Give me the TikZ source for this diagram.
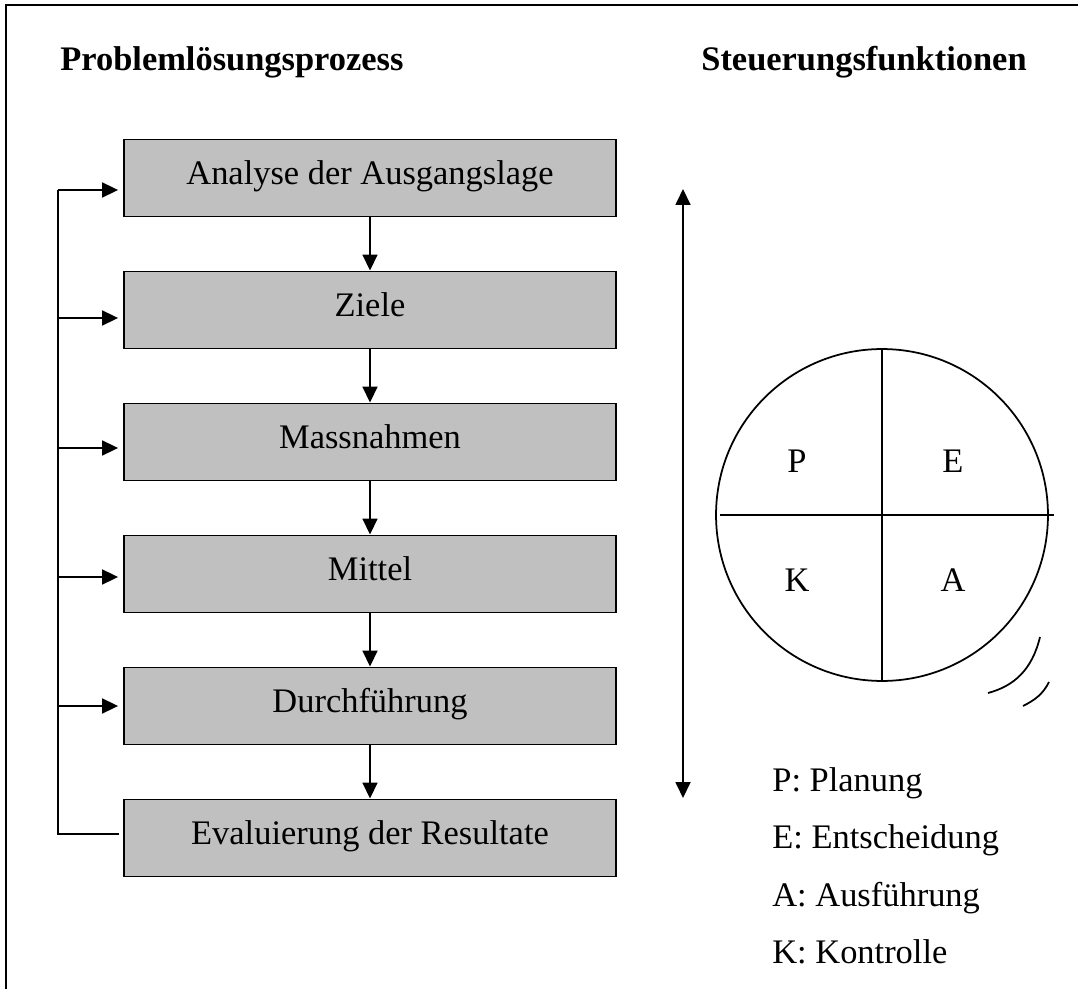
\documentclass[tikz,border=0pt]{standalone}
\usepackage{fontspec}
\setmainfont{Liberation Serif}
\usetikzlibrary{arrows.meta}

\tikzset{
	schritt/.style={draw, line width=1.1pt, fill=boxgrau, minimum width=9.84cm, minimum height=1.54cm, inner sep=0pt, text height=0.65em, text depth=0.3em},
	pfeil/.style={line width=1pt, -{Triangle[length=0.32cm,width=0.3cm]}},
	legende/.style={anchor=base west, inner sep=0pt},
	titel/.style={anchor=base west, inner sep=0pt, font=\bfseries}
}
\definecolor{boxgrau}{HTML}{C0C0C0}

\begin{document}
\fontsize{19.6}{24}\selectfont
\begin{tikzpicture}[x=0.02cm, y=-0.02cm]
			
			\useasboundingbox (0,0) rectangle (1078,989);
			
			% Frame
			\draw[line width=1.1pt] (1078,5) -- (6,5) -- (6,989);
			
			% Titles
			\node[titel] (tproz) at (60,71) {Problemlösungsprozess};
			\node[titel] (tsteu) at (701,71) {Steuerungsfunktionen};
			
			% Process steps
			\node[schritt] (b1) at (370,178) {Analyse der Ausgangslage};
			\node[schritt] (b2) at (370,310) {Ziele};
			\node[schritt] (b3) at (370,442) {Massnahmen};
			\node[schritt] (b4) at (370,574) {Mittel};
			\node[schritt] (b5) at (370,706) {Durchführung};
			\node[schritt] (b6) at (370,838) {Evaluierung der Resultate};
			
			\draw[pfeil] (b1) -- (b2);
			\draw[pfeil] (b2) -- (b3);
			\draw[pfeil] (b3) -- (b4);
			\draw[pfeil] (b4) -- (b5);
			\draw[pfeil] (b5) -- (b6);
			
			% Feedback loop
			\coordinate (fb1) at (58,190);
			\coordinate (fb2) at (58,318);
			\coordinate (fb3) at (58,448);
			\coordinate (fb4) at (58,577);
			\coordinate (fb5) at (58,706);
			\coordinate (fb6) at (58,834);
			
			\draw[line width=1pt] ([xshift=-0.08cm]b6.west |- fb6) -- (fb6) -- (fb1);
			\foreach \i in {1,...,5}
				\draw[pfeil, shorten >=0.1cm] (fb\i) -- (fb\i -| b\i.west);
			
			% Time axis
			\coordinate (ao) at (683,189);
			\coordinate (au) at (683,798);
			\draw[line width=1pt, {Triangle[length=0.32cm,width=0.3cm]}-{Triangle[length=0.32cm,width=0.3cm]}] (ao) -- (au);
			
			% Control circle
			\node[draw, circle, line width=1pt, minimum size=6.64cm, inner sep=0pt] (kreis) at (882,515) {};
			\draw[line width=1pt] (kreis.north) -- (kreis.south);
			\draw[line width=1pt] ([xshift=0.1cm]kreis.west) -- ([xshift=0.1cm]kreis.east);
			\node (kp) at (797,461) {P};
			\node (ke) at (953,461) {E};
			\node (kk) at (797,580) {K};
			\node (ka) at (953,580) {A};
			
			% Rotation marks
			\draw[line width=1pt] (1040,637) .. controls (1032,670) and (1014,686) .. (988,693);
			\draw[line width=1pt] (1049,682) .. controls (1043,694) and (1035,700) .. (1023,706);
			
			% Legend
			\node[legende] (lp) at (772,791) {P: Planung};
			\node[legende] (le) at (772,848) {E: Entscheidung};
			\node[legende] (la) at (772,906) {A: Ausführung};
			\node[legende] (lk) at (772,963) {K: Kontrolle};
		\end{tikzpicture}
\end{document}
